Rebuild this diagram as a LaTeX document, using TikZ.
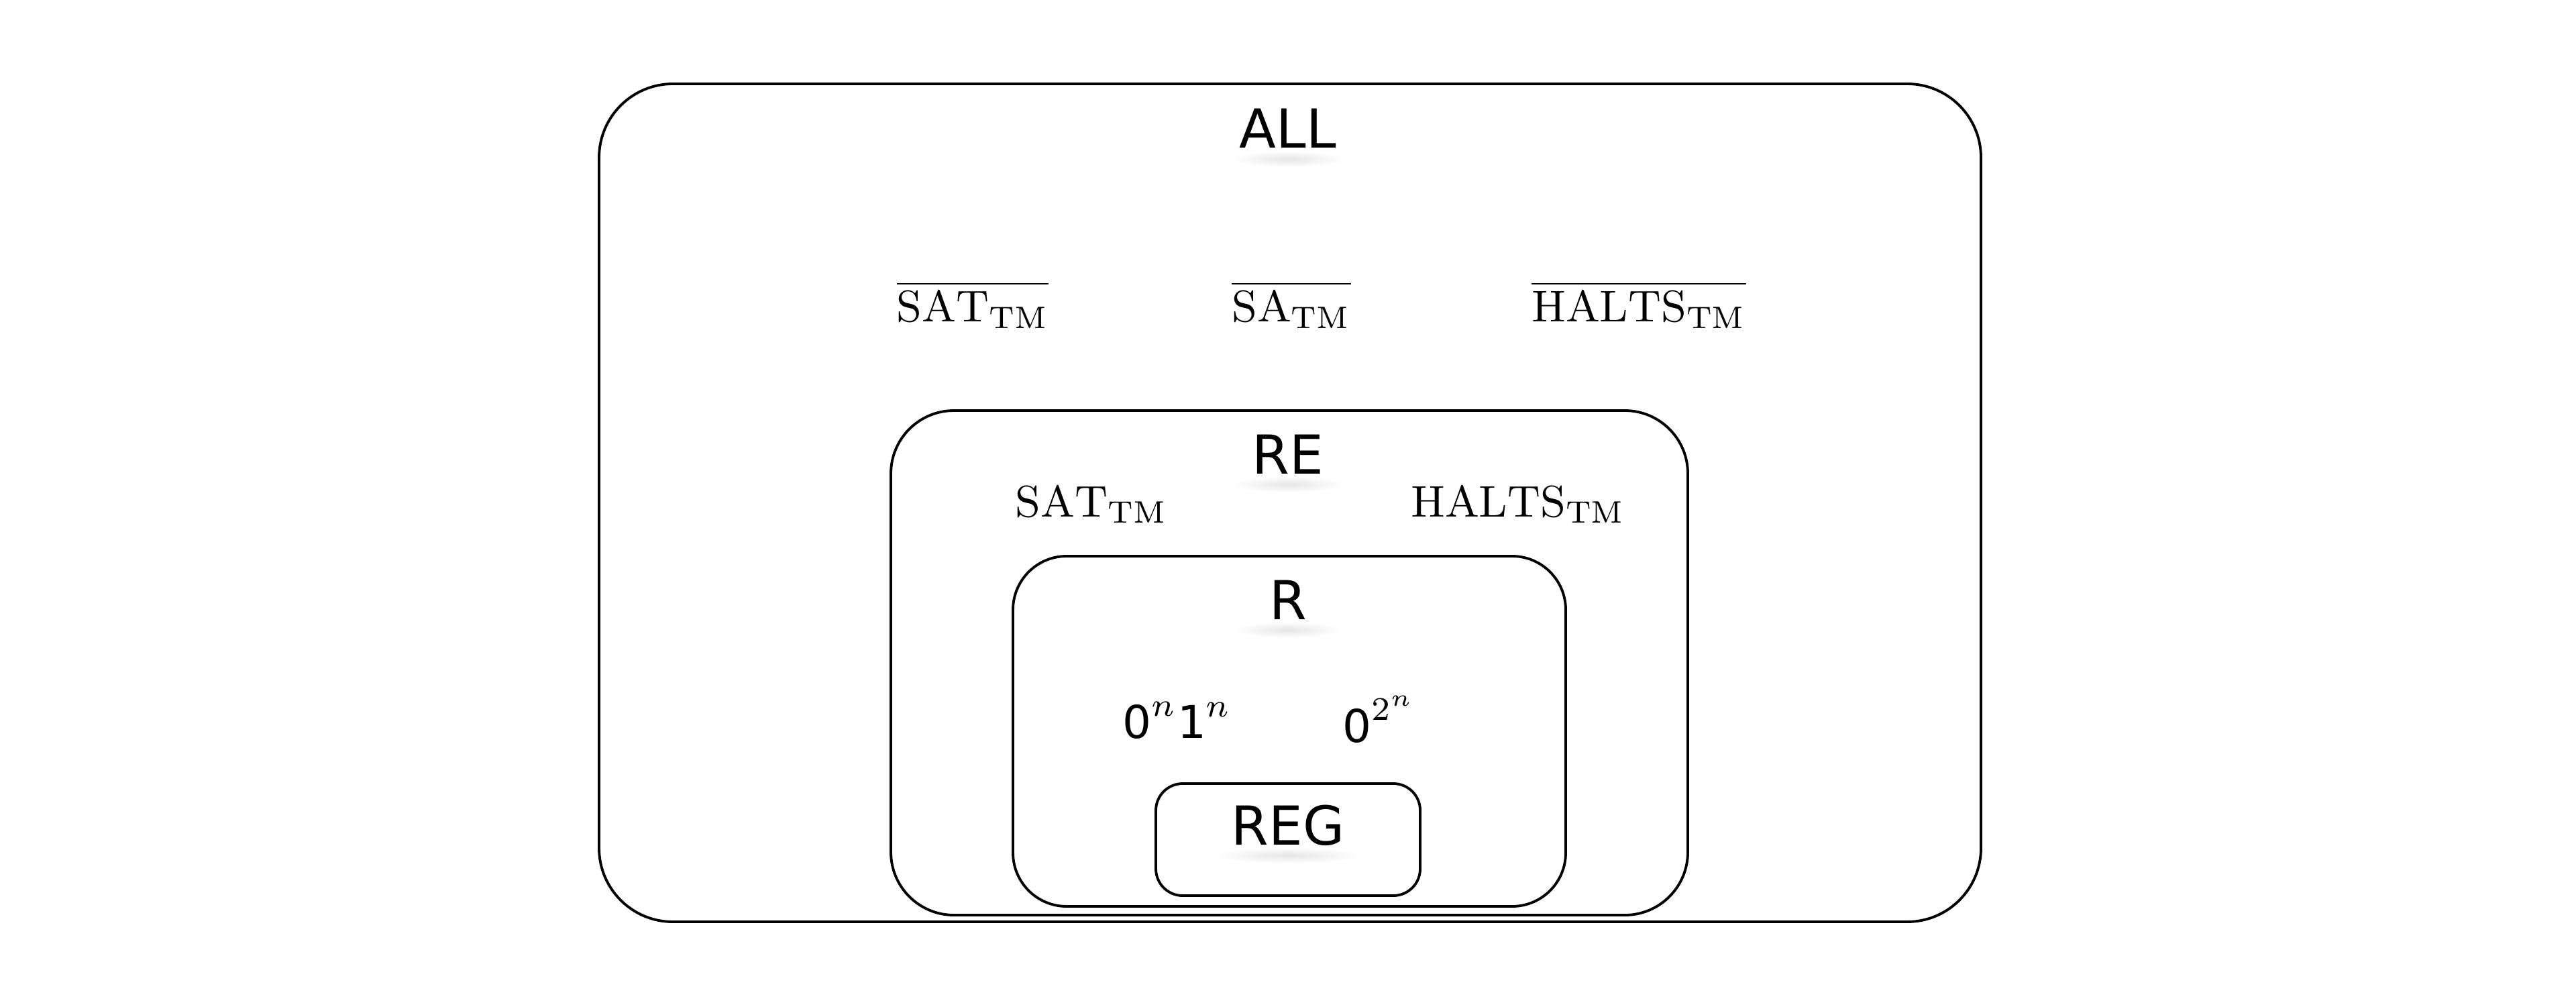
\documentclass[tikz,border=0pt]{standalone}
\usepackage{amsmath,amssymb}
\usepackage{fontspec}
\newfontfamily\setfont{DejaVu Sans}
\usetikzlibrary{positioning}

\newcommand{\sfdigit}[1]{\mbox{\fontsize{9.6}{12}\selectfont\setfont #1}}

\begin{document}
\begin{tikzpicture}[
    setbox/.style={draw, line width=0.55pt},
    setname/.style={font=\fontsize{11.4}{14}\selectfont\setfont, anchor=base, inner sep=0pt},
    lang/.style={font=\fontsize{9.4}{12}\selectfont, anchor=base, inner sep=0pt},
    glow/.style={inner color=black!10, outer color=white}
]
    \useasboundingbox (0,0) rectangle (19.2,7.5);

    % nested classes
    \draw[setbox, rounded corners=0.55cm] (4.465,0.63) rectangle (14.765,6.875);
    \draw[setbox, rounded corners=0.47cm] (6.64,0.68) rectangle (12.58,4.44);
    \draw[setbox, rounded corners=0.4cm] (7.55,0.745) rectangle (11.67,3.355);
    \draw[setbox, rounded corners=0.2cm] (8.615,0.825) rectangle (10.585,1.66);

    \node[setname] (all) at (9.6,6.395) {ALL};
    \node[setname] (re) at (9.6,3.97) {RE};
    \node[setname] (r) at (9.6,2.885) {R};
    \node[setname] (reg) at (9.6,1.205) {REG};

    \shade[glow] ([yshift=-0.08cm]all.base) ellipse (0.42 and 0.06);
    \shade[glow] ([yshift=-0.08cm]re.base) ellipse (0.42 and 0.06);
    \shade[glow] ([yshift=-0.08cm]r.base) ellipse (0.4 and 0.06);
    \shade[glow] ([yshift=-0.08cm]reg.base) ellipse (0.55 and 0.06);

    % outside RE
    \node[lang] (cosat) at (7.25,5.10) {$\overline{\mathrm{SAT}_{\mathrm{TM}}}$};
    \node[lang] (cosa) at (9.625,5.10) {$\overline{\mathrm{SA}_{\mathrm{TM}}}$};
    \node[lang] (cohalts) at (12.215,5.10) {$\overline{\mathrm{HALTS}_{\mathrm{TM}}}$};

    % RE but not R
    \node[lang] (sat) at (8.135,3.65) {$\mathrm{SAT}_{\mathrm{TM}}$};
    \node[lang] (halts) at (11.315,3.65) {$\mathrm{HALTS}_{\mathrm{TM}}$};

    % R but not REG
    \node[lang] (zeroone) at (8.775,2.0) {$\sfdigit{0}^n\sfdigit{1}^n$};
    \node[lang] (zeropow) at (10.28,1.97) {$\sfdigit{0}^{2^n}$};
\end{tikzpicture}
\end{document}
